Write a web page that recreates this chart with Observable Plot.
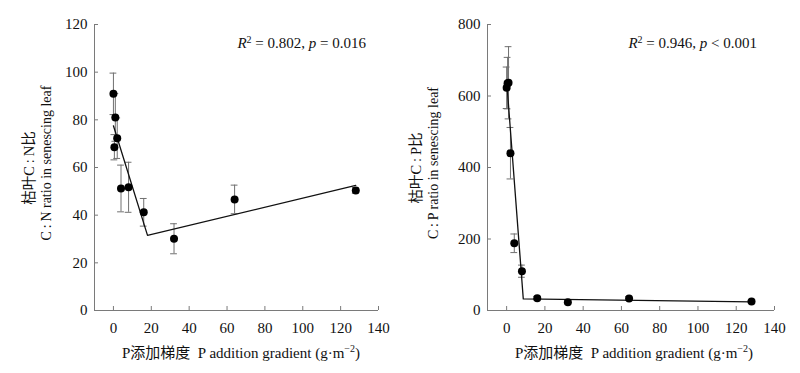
<!DOCTYPE html>
<html><head><meta charset="utf-8">
<script src="https://cdn.jsdelivr.net/npm/d3@7"></script>
<script src="https://cdn.jsdelivr.net/npm/@observablehq/plot@0.6"></script>
<style>
body{margin:0;background:#fff}
#wrap{display:flex;width:800px;height:373px;background:#fff}
svg{display:block}
svg text{font-family:'Liberation Serif','Times New Roman','Noto Sans CJK SC',serif}
</style>
</head><body><div id="wrap"></div>
<script>
// P addition gradient (g·m-2)
const pGradient = [0, 0.5, 1, 2, 4, 8, 16, 32, 64, 128];
// C:N ratio in senescing leaf (mean, error)
const cnRatio = [90.9, 68.5, 81.0, 72.3, 51.2, 51.7, 41.2, 30.1, 46.6, 50.4];
const cnErr   = [8.7, 5.3, 10.0, 8.5, 9.8, 10.5, 5.8, 6.3, 6.0, 1.2];
// C:P ratio in senescing leaf (mean, error)
const cpRatio = [623, 636, 637, 440, 188, 110, 34.5, 23, 33.6, 25];
const cpErr   = [58, 72, 101, 72, 26, 17, 5, 4, 5, 3];
// piecewise fitted lines
const cnFitX = [0, 18, 128];
const cnFitY = [77.5, 31.5, 52.5];
const cpFitX = [0, 8.7, 128];
const cpFitY = [643, 32.5, 24];
// ticks
const xTicks = [0, 20, 40, 60, 80, 100, 120, 140];
const cnTicks = [0, 20, 40, 60, 80, 100, 120];
const cpTicks = [0, 200, 400, 600, 800];
const xTitleCN = "P添加梯度";
const xTitleEN = "\u00a0\u00a0P addition gradient (g·m";
const cnTitleCN = "枯叶C\u2009:\u2009N比";
const cnTitleEN = "C\u2009:\u2009N ratio in senescing leaf";
const cpTitleCN = "枯叶C\u2009:\u2009P比";
const cpTitleEN = "C\u2009:\u2009P ratio in senescing leaf";
const cnStat = {r2: "0.802", rel: "=", p: "0.016"};
const cpStat = {r2: "0.946", rel: "<", p: "0.001"};

const FONT = "'Liberation Serif', 'Times New Roman', 'Noto Sans CJK SC', serif";
const AXIS = "#7a7a7a";

function panel({values, errs, fitX, fitY, yTicks, yMax, mLeft, mRight, titleCN, titleEN, stat, titleX1, titleX2, xTitleCenter, statRight}) {
  const W = 400, H = 373, mTop = 24, mBottom = 63;
  const pts = pGradient.map((x, i) => ({x, y: values[i], lo: values[i] - errs[i], hi: values[i] + errs[i]}));
  const caps = pts.flatMap(d => [{x: d.x, y: d.lo}, {x: d.x, y: d.hi}]);
  const fit = fitX.map((x, i) => ({x, y: fitY[i]}));
  const capHalf = 3.4 * 150 / (W - mLeft - mRight);
  const plotW = W - mLeft - mRight, plotH = H - mTop - mBottom;
  const svg = Plot.plot({
    width: W, height: H,
    marginLeft: mLeft, marginRight: mRight, marginTop: mTop, marginBottom: mBottom,
    style: {fontFamily: FONT, fontSize: "15px", background: "#fff", color: "#111"},
    x: {domain: [-10, 140], ticks: xTicks},
    y: {domain: [0, yMax], ticks: yTicks},
    marks: [
      Plot.axisX(xTicks, {tickSize: 0, tickPadding: 12, label: null, fontSize: 15, fontFamily: FONT, fill: "#111"}),
      Plot.axisY(yTicks, {tickSize: 0, tickPadding: 7, label: null, fontSize: 15, fontFamily: FONT, fill: "#111"}),
      Plot.tickX(xTicks, {x: d => d, insetTop: plotH - 4, stroke: AXIS}),
      Plot.tickY(yTicks, {y: d => d, insetRight: plotW - 4, stroke: AXIS}),
      Plot.ruleY([0], {x1: -10, x2: 140, stroke: AXIS}),
      Plot.ruleX([-10], {y1: 0, y2: yMax, stroke: AXIS}),
      Plot.ruleX(pts, {x: "x", y1: "lo", y2: "hi", stroke: "#707070", strokeWidth: 1}),
      Plot.ruleY(caps, {y: "y", x1: d => d.x - capHalf, x2: d => d.x + capHalf, stroke: "#707070", strokeWidth: 1}),
      Plot.line(fit, {x: "x", y: "y", stroke: "#111", strokeWidth: 1.3}),
      Plot.dot(pts, {x: "x", y: "y", r: 4, fill: "#000", stroke: "none"})
    ]
  });
  const s = d3.select(svg);
  // x title
  const xt = s.append("text").attr("x", xTitleCenter).attr("y", 358)
    .attr("text-anchor", "middle").attr("font-size", 15).attr("fill", "#111").attr("font-family", FONT);
  xt.append("tspan").text(xTitleCN);
  xt.append("tspan").text(xTitleEN);
  xt.append("tspan").attr("font-size", 10).attr("dy", -6).text("\u22122");
  xt.append("tspan").attr("dy", 6).text(")");
  // y title (two lines, rotated)
  s.append("text").attr("transform", `translate(${titleX1},168) rotate(-90)`)
    .attr("text-anchor", "middle").attr("dy", "0.35em").attr("font-size", 14.5).attr("fill", "#111")
    .attr("font-family", FONT).text(titleCN);
  s.append("text").attr("transform", `translate(${titleX2},163) rotate(-90)`)
    .attr("text-anchor", "middle").attr("dy", "0.35em").attr("font-size", 14).attr("fill", "#111")
    .attr("font-family", FONT).text(titleEN);
  // statistics
  const st = s.append("text").attr("x", statRight).attr("y", 48).attr("text-anchor", "end")
    .attr("font-size", 15).attr("fill", "#111").attr("font-family", FONT);
  st.append("tspan").attr("font-style", "italic").text("R");
  st.append("tspan").attr("font-size", 10).attr("dy", -5).text("2");
  st.append("tspan").attr("dy", 5).text(` = ${stat.r2}, `);
  st.append("tspan").attr("font-style", "italic").text("p");
  st.append("tspan").text(` ${stat.rel} ${stat.p}`);
  return svg;
}

const wrap = document.getElementById("wrap");
wrap.append(panel({
  values: cnRatio, errs: cnErr, fitX: cnFitX, fitY: cnFitY, yTicks: cnTicks, yMax: 120,
  mLeft: 94, mRight: 22, titleCN: cnTitleCN, titleEN: cnTitleEN, stat: cnStat,
  titleX1: 29, titleX2: 46, xTitleCenter: 241, statRight: 366
}));
wrap.append(panel({
  values: cpRatio, errs: cpErr, fitX: cpFitX, fitY: cpFitY, yTicks: cpTicks, yMax: 800,
  mLeft: 87, mRight: 26, titleCN: cpTitleCN, titleEN: cpTitleEN, stat: cpStat,
  titleX1: 16, titleX2: 33, xTitleCenter: 234, statRight: 357
}));
</script>
</body></html>
